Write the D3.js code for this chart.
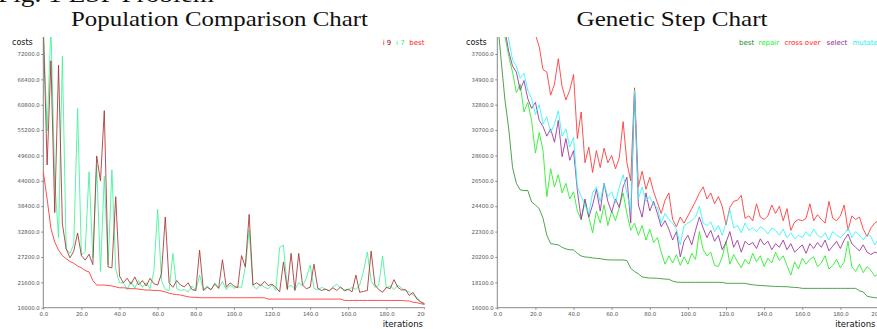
<!DOCTYPE html>
<html>
<head>
<meta charset="utf-8">
<script src="https://cdn.jsdelivr.net/npm/d3@7"></script>
<style>
  body { margin: 0; background: #fff; }
  svg { display: block; }
  text { font-family: "DejaVu Sans", sans-serif; }
</style>
</head>
<body>
<svg id="fig" width="877" height="329"></svg>
<script>
// costs are kept in thousands, iterations every 2 steps
const iterations = [
  0, 2, 4, 6, 8, 10, 12, 14, 16, 18, 20, 22, 24, 26, 28, 30, 32, 34, 36, 38,
  40, 42, 44, 46, 48, 50, 52, 54, 56, 58, 60, 62, 64, 66, 68, 70, 72, 74, 76, 78,
  80, 82, 84, 86, 88, 90, 92, 94, 96, 98, 100, 102, 104, 106, 108, 110, 112, 114, 116, 118,
  120, 122, 124, 126, 128, 130, 132, 134, 136, 138, 140, 142, 144, 146, 148, 150, 152, 154, 156, 158,
  160, 162, 164, 166, 168, 170, 172, 174, 176, 178, 180, 182, 184, 186, 188, 190, 192, 194, 196, 198, 200
];
const xTicks = [0, 20, 40, 60, 80, 100, 120, 140, 160, 180, 200];

// Population Comparison Chart
const popTicks = [16, 21.6, 27.2, 32.8, 38.4, 44, 49.6, 55.2, 60.8, 66.4, 72];
const popI9 = [
  78, 47.5, 70.5, 37.0, 69.5, 34.5, 29.0, 27.0, 28.5, 32.5,
  27.5, 26.5, 27.8, 25.5, 49.5, 44.0, 59.5, 25.0, 24.8, 40.5,
  23.0, 21.5, 22.5, 21.2, 22.8, 21.0, 22.0, 20.8, 22.5, 21.3,
  21.0, 23.5, 36.0, 21.5, 20.5, 22.0, 21.0, 20.6, 21.5, 20.0,
  19.8, 28.7, 19.8, 20.5, 20.0, 21.2, 20.3, 26.6, 20.5, 21.5,
  20.8, 20.4, 27.5, 25.0, 36.6, 21.0, 21.5, 20.8, 21.8, 20.9,
  21.2, 20.5, 19.5, 26.1, 20.0, 28.0, 19.8, 28.0, 21.0, 20.2,
  20.5, 25.6, 20.3, 19.8, 20.1, 19.7, 20.4, 19.8, 20.6, 19.7,
  20.1, 19.5, 23.2, 19.4, 19.6, 19.8, 28.5, 21.0, 20.0, 19.4,
  20.5, 20.2, 22.2, 20.5, 19.9, 20.0, 18.7, 19.4, 17.9, 17.3, 16.9
];
const popI7 = [
  78, 55.0, 78, 44.0, 31.5, 71.5, 29.0, 28.0, 30.0, 60.0,
  27.5, 28.5, 46.0, 27.0, 47.5, 24.0, 45.0, 25.5, 46.4, 24.5,
  21.5, 21.5, 20.0, 21.8, 20.3, 22.0, 20.5, 21.5, 20.2, 24.0,
  37.7, 22.0, 20.0, 19.8, 28.0, 20.2, 19.8, 20.0, 19.5, 20.8,
  19.8, 23.2, 20.0, 20.8, 19.9, 21.5, 20.2, 21.8, 20.0, 21.0,
  20.3, 20.6, 20.5, 25.0, 33.1, 20.8, 20.1, 21.3, 20.5, 20.2,
  21.0, 19.8, 29.3, 29.8, 20.4, 21.0, 20.0, 21.5, 20.8, 22.5,
  25.4, 20.3, 19.9, 20.5, 20.1, 19.8, 20.6, 21.2, 20.3, 20.0,
  19.9, 20.5, 20.0, 21.0, 24.0, 28.3, 22.0, 20.5, 21.0, 27.4,
  20.3, 20.8, 20.0, 21.0, 20.3, 19.8, 19.5, 18.8, 18.3, 17.2, 16.8
];
const popBest = [
  46.0, 40.0, 33.5, 30.5, 28.7, 27.5, 26.8, 26.2, 25.8, 25.2,
  24.8, 24.2, 23.9, 22.0, 21.0, 21.0, 21.0, 20.9, 20.8, 20.6,
  20.4, 20.4, 20.3, 20.2, 20.2, 20.1, 20.0, 19.9, 19.9, 19.8,
  19.8, 19.7, 19.5, 19.2, 19.0, 18.9, 18.8, 18.6, 18.4, 18.3,
  18.3, 18.2, 18.2, 18.2, 18.2, 18.2, 18.2, 18.2, 18.2, 18.2,
  18.2, 18.2, 18.2, 18.2, 18.2, 18.2, 18.2, 18.2, 18.2, 17.9,
  17.9, 17.9, 17.9, 17.9, 17.9, 17.9, 17.9, 17.9, 17.9, 17.9,
  17.9, 17.9, 17.9, 17.9, 17.9, 17.9, 17.9, 17.9, 17.9, 17.6,
  17.6, 17.6, 17.6, 17.6, 17.6, 17.6, 17.6, 17.6, 17.6, 17.6,
  17.6, 17.6, 17.6, 17.6, 17.6, 17.5, 17.5, 17.2, 17.1, 16.9, 16.7
];

// Genetic Step Chart
const stepTicks = [16, 18.1, 20.2, 22.3, 24.4, 26.5, 28.6, 30.7, 32.8, 34.9, 37];
const stepBest = [
  40.0, 36.5, 33.2, 30.8, 27.6, 26.3, 25.75, 25.7, 25.7, 24.75,
  24.5, 24.2, 23.4, 22.0, 21.3, 21.25, 21.2, 21.0, 20.86, 20.8,
  20.78, 20.5, 20.28, 20.2, 20.17, 20.12, 20.08, 20.06, 20.0, 19.96,
  19.95, 19.95, 19.95, 19.95, 19.9, 19.26, 19.0, 18.8, 18.55, 18.49,
  18.45, 18.45, 18.43, 18.4, 18.37, 18.35, 18.2, 18.12, 18.1, 18.1,
  18.1, 18.1, 18.1, 18.1, 18.1, 18.1, 18.1, 18.1, 18.1, 18.1,
  18.02, 18.02, 18.02, 18.02, 18.02, 18.02, 17.94, 17.9, 17.86, 17.84,
  17.82, 17.8, 17.78, 17.76, 17.75, 17.74, 17.74, 17.7, 17.68, 17.66,
  17.6, 17.6, 17.6, 17.6, 17.6, 17.6, 17.6, 17.6, 17.6, 17.6,
  17.6, 17.6, 17.6, 17.6, 17.6, 17.4, 17.3, 16.95, 16.88, 16.83, 16.8
];
const stepRepair = [
  46, 42, 38.5, 36.8, 35.5, 33.8, 34.5, 32.2, 33.0, 31.5,
  28.8, 30.5, 29.0, 25.2, 27.5, 26.0, 27.0, 25.5, 26.3, 25.0,
  25.6, 24.0, 23.3, 24.8, 23.5, 22.2, 24.0, 23.0, 24.5, 22.8,
  24.0, 23.2, 24.3, 25.5, 23.8, 22.4, 23.0, 22.0, 22.8, 21.6,
  22.5, 21.4, 21.8, 20.6, 19.6, 20.3, 19.7, 20.4, 19.5, 20.2,
  19.6, 20.5, 20.0, 22.3, 20.8, 20.3, 20.6, 19.5, 19.4, 20.2,
  21.5, 19.6, 20.4, 19.8, 19.3, 20.0, 19.6, 20.5, 19.8, 20.3,
  19.4, 20.1, 19.7, 20.6, 19.9, 20.3, 19.5, 18.7, 19.8, 19.2,
  20.1, 19.6, 20.0, 20.2, 19.4, 19.7, 20.3, 19.2, 19.5, 20.0,
  19.3, 19.8, 21.5, 19.4, 19.0, 19.6, 18.9, 19.4, 19.1, 18.6, 18.8
];
const stepCross = [
  48, 46, 44, 43, 42, 41, 40.5, 40, 39.5, 39,
  38.6, 37.6, 35.7, 35.5, 33.6, 34.5, 36.6, 34.3, 33.2, 34.0,
  35.3, 30.0, 32.2, 28.0, 29.3, 27.2, 29.0, 27.6, 29.2, 28.0,
  28.6, 27.5, 28.4, 31.4, 28.0, 26.5, 34.2, 26.0, 27.3, 25.8,
  26.8, 25.6, 24.7, 23.8, 24.9, 25.5, 23.3, 22.7, 23.5, 23.0,
  23.6, 24.2, 24.8, 25.5, 26.0, 25.0, 25.5, 24.6, 25.2, 24.4,
  22.85, 24.3, 24.8, 24.9, 25.3, 23.4, 23.6, 23.2, 24.6, 23.5,
  23.3, 23.6, 24.5, 23.8, 24.4, 23.2, 24.2, 22.4, 23.1, 23.3,
  23.2, 23.4, 24.6, 23.2, 23.7, 23.3, 23.0, 24.8, 23.4, 23.2,
  23.6, 24.5, 22.4, 23.6, 23.3, 23.5, 22.5, 21.9, 22.6, 23.0, 23.2
];
const stepSelect = [
  46, 42, 39, 37.2, 36.0, 35.5, 34.0, 34.8, 33.3, 32.5,
  33.0, 31.5, 31.0, 30.2, 30.8, 29.7, 31.5, 28.5, 30.0, 28.2,
  29.0, 25.7, 23.3, 25.0, 23.5, 24.5, 25.8, 24.0, 26.3, 24.8,
  23.9, 25.0, 24.3, 26.0, 26.8, 23.0, 34.0, 24.5, 23.5, 25.5,
  24.0, 24.8, 23.8, 22.7, 23.2, 22.5, 21.6, 22.3, 20.2, 21.5,
  22.0, 21.2, 22.4, 23.5, 22.6, 21.8, 22.4, 21.5, 22.0, 20.8,
  21.4, 22.3, 21.0, 21.6, 20.6, 21.5, 21.2, 21.4, 20.9, 21.7,
  21.2, 21.5, 20.8, 21.3, 21.0, 21.6, 20.8, 21.3, 20.6, 20.9,
  21.2, 20.5, 21.3, 20.9, 21.4, 21.0, 21.6, 20.7, 21.1, 21.5,
  20.9, 21.6, 22.1, 21.3, 21.0, 20.7, 21.2, 20.6, 20.4, 20.6, 20.5
];
const stepMutate = [
  46, 42, 40, 38.2, 36.5, 36.0, 35.0, 35.4, 34.0, 33.3,
  32.0, 32.8, 31.2, 31.8, 30.5, 31.2, 32.3, 30.2, 30.8, 29.3,
  30.1, 26.0, 25.2, 24.5, 23.8, 25.5, 26.0, 24.8, 26.3, 25.2,
  25.6, 24.7, 26.0, 27.0, 25.5, 24.0, 34.0, 25.0, 26.0, 24.8,
  25.2, 24.5, 24.3, 23.0, 23.8, 23.3, 23.0, 22.5, 21.2, 22.8,
  23.0, 23.2, 23.5, 24.4, 23.0, 22.8, 23.1, 22.3, 22.8, 22.0,
  23.0, 24.1, 22.6, 22.8, 22.2, 23.0, 22.4, 22.6, 22.3, 22.7,
  22.5, 22.1, 22.6, 22.4, 22.0, 22.5, 21.8, 22.2, 21.7, 22.0,
  21.8, 22.3, 21.9, 22.5, 22.0, 21.8, 22.2, 21.6, 22.3, 22.0,
  21.8, 22.1, 22.6, 21.8, 22.3, 22.0, 21.6, 22.1, 21.9, 21.2, 21.7
];

const svg = d3.select("#fig");

// caption of the page, only its lower edge shows at the top
svg.append("text")
  .attr("x", -2).attr("y", 2)
  .attr("textLength", 216).attr("lengthAdjust", "spacingAndGlyphs")
  .style("font-family", "'Liberation Serif', serif")
  .style("font-size", "24px")
  .attr("fill", "#111")
  .text("Fig. 1 ESP Problem");

function drawPanel(p) {
  const g = svg.append("g").attr("transform", "translate(" + p.ox + ",0)");
  const clipId = "clip" + p.ox, plotId = "plot" + p.ox;

  const defs = svg.append("defs");
  defs.append("clipPath").attr("id", clipId)
    .append("rect").attr("x", -5).attr("y", 0).attr("width", p.clipW).attr("height", 329);
  defs.append("clipPath").attr("id", plotId)
    .append("rect").attr("x", 43.3).attr("y", 37).attr("width", 400).attr("height", 272);

  const root = g.append("g").attr("clip-path", "url(#" + clipId + ")");

  const x = d3.scaleLinear().domain([0, 200]).range([43.3, 424.5]);
  const y = d3.scaleLinear().domain([p.yTicks[0], p.yTicks[p.yTicks.length - 1]]).range([307.7, 54]);

  // title
  root.append("text")
    .attr("x", p.titleX).attr("y", 26)
    .attr("text-anchor", "middle")
    .attr("textLength", p.titleW).attr("lengthAdjust", "spacingAndGlyphs")
    .style("font-family", "'Liberation Serif', serif")
    .style("font-size", "21px")
    .attr("fill", "#111")
    .text(p.title);

  // axes
  const yAxis = root.append("g").attr("transform", "translate(43.3,0)")
    .call(d3.axisLeft(y).tickValues(p.yTicks).tickSize(2).tickSizeOuter(0).tickPadding(1.5)
      .tickFormat(d => d3.format(".1f")(d * 1000)));
  const xAxis = root.append("g").attr("transform", "translate(0,307.7)")
    .call(d3.axisBottom(x).tickValues(xTicks).tickSize(2).tickSizeOuter(0).tickPadding(2)
      .tickFormat(d3.format(".1f")));
  [yAxis, xAxis].forEach(a => {
    a.select(".domain").remove();
    a.selectAll("line").attr("stroke", "#888");
    a.selectAll("text").style("font-size", "5.4px").attr("fill", "#555");
  });
  root.append("line").attr("x1", 43.3).attr("x2", 43.3).attr("y1", 37).attr("y2", 307.7)
    .attr("stroke", "#888");
  root.append("line").attr("x1", 43.3).attr("x2", 430).attr("y1", 307.7).attr("y2", 307.7)
    .attr("stroke", "#888");

  root.append("text").attr("x", 12).attr("y", 45)
    .style("font-size", "8px").attr("fill", "#111").text("costs");
  root.append("text").attr("x", p.iterX).attr("y", 326.5).attr("text-anchor", "end")
    .style("font-size", "8.5px").attr("fill", "#111").text("iterations");

  // lines
  const line = d3.line().x((d, i) => x(iterations[i])).y(d => y(d));
  const plot = root.append("g").attr("clip-path", "url(#" + plotId + ")");
  p.series.forEach(s => {
    plot.append("path").datum(s.values)
      .attr("d", line)
      .attr("fill", "none")
      .attr("stroke", s.color)
      .attr("stroke-width", 1)
      .attr("stroke-opacity", s.opacity || 1);
  });

  // legend
  p.legend.forEach(l => {
    root.append("text").attr("x", l.x).attr("y", 45)
      .style("font-size", "7px").attr("fill", l.color).text(l.name);
  });
}

drawPanel({
  ox: 0, clipW: 430, iterX: 423, title: "Population Comparison Chart", titleX: 219.5, titleW: 297,
  yTicks: popTicks,
  series: [
    { values: popI7, color: "#3df597", opacity: 0.85 },
    { values: popI9, color: "#a83232", opacity: 0.85 },
    { values: popBest, color: "#ff3b3b", opacity: 0.9 }
  ],
  legend: [
    { name: "i 9", x: 382.7, color: "#b00000" },
    { name: "i 7", x: 396, color: "#2ef08a" },
    { name: "best", x: 409.3, color: "#ff1a1a" }
  ]
});

drawPanel({
  ox: 454, clipW: 430, iterX: 421.5, title: "Genetic Step Chart", titleX: 218, titleW: 191,
  yTicks: stepTicks,
  series: [
    { values: stepBest, color: "#3a9a3a", opacity: 0.9 },
    { values: stepRepair, color: "#2ef02e", opacity: 0.9 },
    { values: stepCross, color: "#ff3333", opacity: 0.85 },
    { values: stepSelect, color: "#9a2f9a", opacity: 0.85 },
    { values: stepMutate, color: "#33f5f5", opacity: 0.85 }
  ],
  legend: [
    { name: "best", x: 285, color: "#1f8a1f" },
    { name: "repair", x: 304.5, color: "#22ee22" },
    { name: "cross over", x: 330.5, color: "#ff2222" },
    { name: "select", x: 372.5, color: "#8e2a8e" },
    { name: "mutate", x: 398.5, color: "#22f0f0" }
  ]
});
</script>
</body>
</html>
